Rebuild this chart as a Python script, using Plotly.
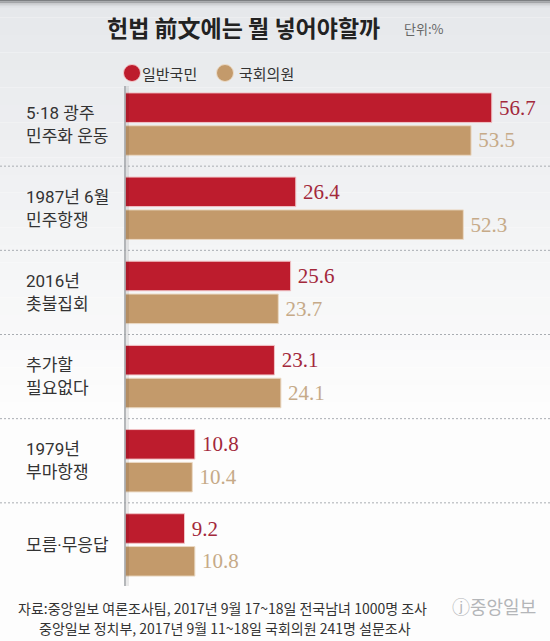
import plotly.graph_objects as go

# data
categories = ["5·18 광주<br>민주화 운동", "1987년 6월<br>민주항쟁", "2016년<br>촛불집회",
              "추가할<br>필요없다", "1979년<br>부마항쟁", "모름·무응답"]
public = [56.7, 26.4, 25.6, 23.1, 10.8, 9.2]
lawmakers = [53.5, 52.3, 23.7, 24.1, 10.4, 10.8]
series_names = ["일반국민", "국회의원"]

W, H = 550, 641
ML, MR, MT, MB = 125, 0, 82, 54
PW, PH = W - ML - MR, H - MT - MB

RED, TAN = "#bd1c2d", "#c39a6b"
KFONT = "Noto Sans CJK KR"
SERIF = "Liberation Serif"


def px_x(px):
    return (px - ML) / PW


def px_y(py):
    return (H - MB - py) / PH


fig = go.Figure()
fig.add_trace(go.Bar(
    y=categories, x=public, name=series_names[0], orientation="h",
    marker=dict(color=RED, line=dict(color="#f1c3c6", width=1)),
    text=[f"\u2009{v:.1f}" for v in public], textposition="outside",
    textfont=dict(family=SERIF, size=21, color="#a3283b"),
    cliponaxis=False, showlegend=False,
))
fig.add_trace(go.Bar(
    y=categories, x=lawmakers, name=series_names[1], orientation="h",
    marker=dict(color=TAN, line=dict(color="#ead9c4", width=1)),
    text=[f"\u2009{v:.1f}" for v in lawmakers], textposition="outside",
    textfont=dict(family=SERIF, size=21, color="#c6aa88"),
    cliponaxis=False, showlegend=False,
))

shapes = []

# background gradient (light grey at top fading to white)
top_c, bot_c = (230, 232, 235), (253, 253, 253)
steps = 24
for i in range(steps):
    t = i / (steps - 1)
    c = tuple(round(a + (b - a) * t) for a, b in zip(top_c, bot_c))
    y0 = i * 420 / steps
    y1 = (i + 1) * 420 / steps if i < steps - 1 else H
    shapes.append(dict(type="rect", xref="paper", yref="paper", layer="below",
                       x0=px_x(0), x1=px_x(W), y0=px_y(y1), y1=px_y(y0),
                       fillcolor="rgb(%d,%d,%d)" % c, line=dict(width=0)))
# dark shadow at the very top
for i, col in enumerate(["#7d7f82", "#a3a5a8", "#c4c6c9", "#d8dadd", "#e2e4e7"]):
    shapes.append(dict(type="rect", xref="paper", yref="paper", layer="below",
                       x0=px_x(0), x1=px_x(W), y0=px_y(i * 1.6 + 1.6), y1=px_y(i * 1.6),
                       fillcolor=col, line=dict(width=0)))

# dotted separators between groups
for k in range(len(categories) - 1):
    shapes.append(dict(type="line", xref="paper", yref="y",
                       x0=px_x(0), x1=px_x(W), y0=k + 0.5, y1=k + 0.5,
                       line=dict(color="#a9adb2", width=1, dash="2px,2px"), layer="below"))

# vertical axis line with soft shadow
shapes.append(dict(type="line", xref="paper", yref="paper", x0=px_x(127.5), x1=px_x(127.5),
                   y0=px_y(586), y1=px_y(86), line=dict(color="rgba(0,0,0,0.08)", width=3)))
shapes.append(dict(type="line", xref="paper", yref="paper", x0=px_x(125), x1=px_x(125),
                   y0=px_y(586), y1=px_y(86), line=dict(color="#a2a5a9", width=1.6)))

# legend circles
for cx, col in [(132, RED), (225, TAN)]:
    shapes.append(dict(type="circle", xref="paper", yref="paper",
                       xsizemode="pixel", ysizemode="pixel",
                       xanchor=px_x(cx), yanchor=px_y(73),
                       x0=-8.5, x1=8.5, y0=-8.5, y1=8.5,
                       fillcolor=col, line=dict(color="#f3c9cc" if col == RED else "#ecdcc8", width=1)))

annotations = []
# category labels, one annotation per line, centred on each group
for cat in categories:
    lines = cat.split("<br>")
    for j, line in enumerate(lines):
        annotations.append(dict(x=px_x(25), xref="paper", y=cat, yref="y", text=line,
                                xanchor="left", yanchor="middle", showarrow=False,
                                borderpad=0, yshift=(len(lines) - 1) * 11.5 - j * 23,
                                font=dict(family="Roboto, " + KFONT, size=17, color="#333333")))

annotations += [
    dict(x=px_x(105), y=px_y(27), xref="paper", yref="paper", text="헌법 前文에는 뭘 넣어야할까",
         xanchor="left", yanchor="middle", showarrow=False,
         font=dict(family=KFONT, size=23, color="#222222", weight=700)),
    dict(x=px_x(402), y=px_y(29), xref="paper", yref="paper", text="단위:%",
         xanchor="left", yanchor="middle", showarrow=False,
         font=dict(family=KFONT, size=13, color="#666666")),
    dict(x=px_x(140), y=px_y(73), xref="paper", yref="paper", text=series_names[0],
         xanchor="left", yanchor="middle", showarrow=False,
         font=dict(family=KFONT, size=15, color="#333333")),
    dict(x=px_x(237), y=px_y(73), xref="paper", yref="paper", text=series_names[1],
         xanchor="left", yanchor="middle", showarrow=False,
         font=dict(family=KFONT, size=15, color="#333333")),
    dict(x=px_x(222), y=px_y(608), xref="paper", yref="paper",
         text="자료:중앙일보 여론조사팀, 2017년 9월 17~18일 전국남녀 1000명 조사",
         xanchor="center", yanchor="middle", showarrow=False, borderpad=0,
         font=dict(family=KFONT, size=14, color="#333333")),
    dict(x=px_x(225), y=px_y(628), xref="paper", yref="paper",
         text="중앙일보 정치부, 2017년 9월 11~18일 국회의원 241명 설문조사",
         xanchor="center", yanchor="middle", showarrow=False, borderpad=0,
         font=dict(family=KFONT, size=14, color="#333333")),
    dict(x=px_x(450), y=px_y(606), xref="paper", yref="paper", text="ⓙ중앙일보",
         xanchor="left", yanchor="middle", showarrow=False,
         font=dict(family=KFONT, size=18, color="#b4b6b9")),
]

fig.update_layout(
    width=W, height=H,
    margin=dict(l=ML, r=MR, t=MT, b=MB),
    paper_bgcolor="#ffffff", plot_bgcolor="rgba(0,0,0,0)",
    barmode="group", bargap=0.22, bargroupgap=0.1,
    xaxis=dict(range=[0, 65.7], visible=False, fixedrange=True),
    yaxis=dict(autorange="reversed", showticklabels=False, showgrid=False,
               zeroline=False, showline=False, fixedrange=True),
    shapes=shapes, annotations=annotations,
    showlegend=False,
)

# drop the browser's default body margin so the figure sits at the page corner
fig.write_html("out.html", config={"displayModeBar": False},
               post_script="document.body.style.margin='0px';")
